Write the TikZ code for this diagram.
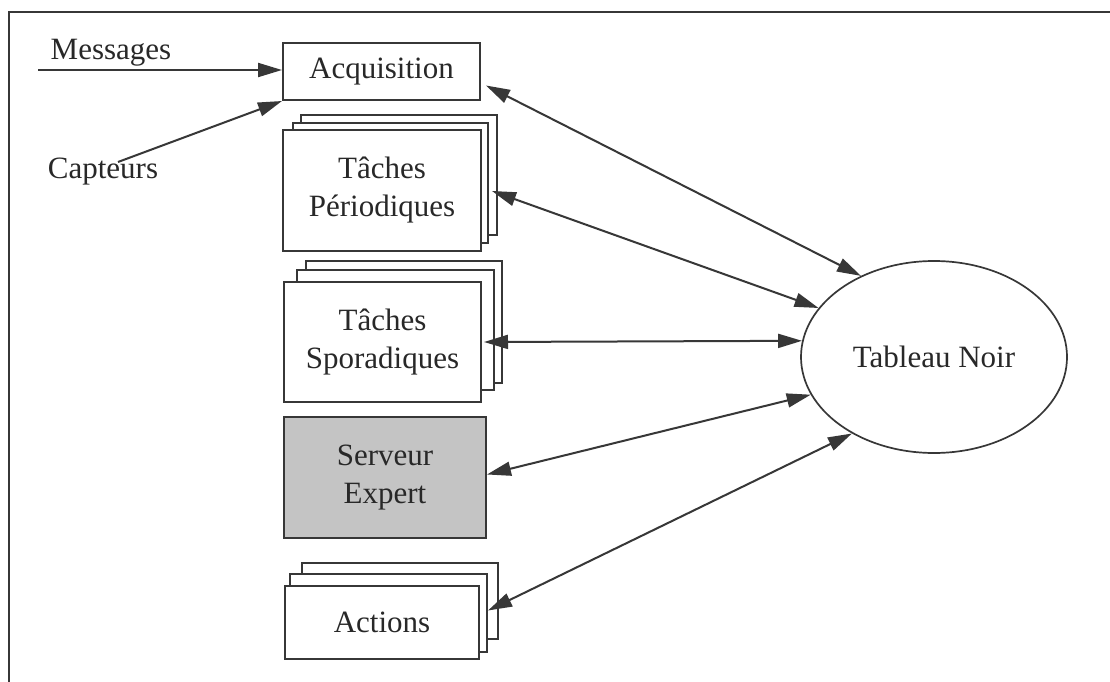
\documentclass[tikz,border=0pt]{standalone}
\usepackage{fontspec}
\setmainfont{Liberation Serif}
\usetikzlibrary{arrows.meta,shapes.geometric,calc}
\definecolor{linecol}{RGB}{55,55,55}
\definecolor{txtcol}{RGB}{40,40,40}
\definecolor{srvfill}{RGB}{196,196,196}
\begin{document}
\begin{tikzpicture}[x=1pt,y=-1pt,
  every node/.style={font=\fontsize{31}{38}\selectfont, text=txtcol},
  boxnode/.style={draw=linecol, line width=2pt, fill=white, rectangle, inner sep=0pt, align=center},
  backbox/.style={draw=linecol, line width=2pt, fill=white},
  arr/.style={draw=linecol, line width=2pt, -{Triangle[length=24pt,width=14pt]}},
  darr/.style={draw=linecol, line width=2pt, {Triangle[length=24pt,width=14pt]}-{Triangle[length=24pt,width=14pt]}}]
\useasboundingbox (0,0) rectangle (1110,682);
\fill[white] (0,0) rectangle (1110,682);
% frame
\draw[linecol, line width=2.5pt] (9,700) -- (9,12) -- (1130,12);
% back copies of stacked boxes
\draw[backbox] (301,115) rectangle (497,235);
\draw[backbox] (293,123) rectangle (488,243);
\draw[backbox] (306,261) rectangle (502,383);
\draw[backbox] (297,270) rectangle (494,390);
\draw[backbox] (302,563) rectangle (498,639);
\draw[backbox] (290,574) rectangle (487,652);
% main nodes
\node[boxnode, minimum width=197pt, minimum height=57pt] (acq) at (381.5,71.5) {Acquisition};
\node[boxnode, minimum width=198pt, minimum height=121pt] (per) at (382,190.5) {Tâches\\Périodiques};
\node[boxnode, minimum width=197pt, minimum height=120pt] (spo) at (382.5,342) {Tâches\\Sporadiques};
\node[boxnode, fill=srvfill, minimum width=202pt, minimum height=121pt] (srv) at (385,477.5) {Serveur\\Expert};
\node[boxnode, minimum width=194pt, minimum height=73pt] (act) at (382,622.5) {Actions};
\node[ellipse, draw=linecol, line width=1.7pt, inner sep=0pt, minimum width=266pt, minimum height=192pt] (tn) at (934,357) {Tableau Noir};
% labels
\node (msg) at (111,53) {Messages};
\node (cap) at (103,172) {Capteurs};
\coordinate (msgstart) at (38,70);
\coordinate (capstart) at (118,162);
% input arrows
\draw[arr] (msgstart) -- ($(acq.west)+(0,-1.5)$);
\draw[arr] (capstart) -- (acq.south west);
% blackboard connections
\draw[darr] ($(acq.east)+(5,14)$) -- (tn.132.8);
\draw[darr] ($(per.east)+(10,0.5)$) -- (tn.157);
\draw[darr] ($(spo.east)+(2,0)$) -- (tn.173.5);
\draw[darr] ($(srv.east)+(0,-3)$) -- (tn.197);
\draw[darr] ($(act.east)+(8,-12)$) -- (tn.223);
\end{tikzpicture}
\end{document}
